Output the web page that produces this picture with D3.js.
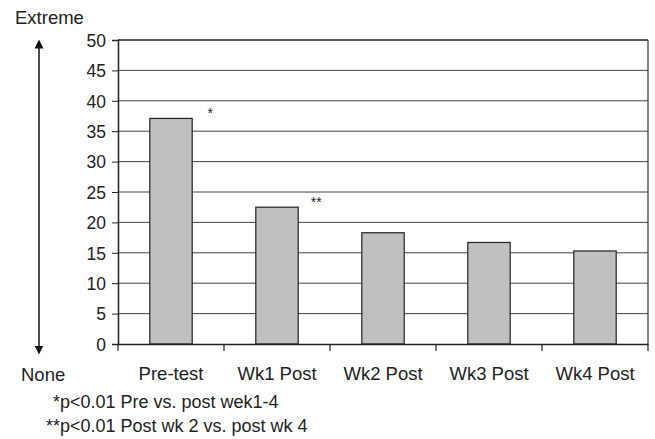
<!DOCTYPE html>
<html><head><meta charset="utf-8">
<script src="https://cdn.jsdelivr.net/npm/d3@7"></script>
<style>body{margin:0;background:#fff}svg{display:block}text{font-family:"Liberation Sans",Arial,sans-serif;fill:#222}</style>
</head><body><svg id="c" width="655" height="439"></svg>
<script>
const categories = ["Pre-test","Wk1 Post","Wk2 Post","Wk3 Post","Wk4 Post"];
const values = [37.1, 22.5, 18.3, 16.7, 15.3];
const yTicks = [0,5,10,15,20,25,30,35,40,45,50];
const annotations = [{cat:"Pre-test", text:"*", v:37.1},{cat:"Wk1 Post", text:"**", v:22.5}];
const footnotes = ["*p<0.01 Pre vs. post wek1-4","**p<0.01 Post wk 2 vs. post wk 4"];

const svg = d3.select("#c");
const L=118,R=648,T=40,B=344;
const x = d3.scaleBand().domain(categories).range([L,R]).paddingInner(0).paddingOuter(0);
const y = d3.scaleLinear().domain([0,50]).range([B,T]);

// gridlines
svg.append("g").selectAll("line").data(yTicks.filter(d=>d>0)).join("line")
  .attr("x1",L).attr("x2",R).attr("y1",d=>y(d)).attr("y2",d=>y(d))
  .attr("stroke",d=>d===50?"#222":"#444").attr("stroke-width",d=>d===50?1.5:1);
// right border
svg.append("line").attr("x1",R).attr("x2",R).attr("y1",T).attr("y2",B).attr("stroke","#333").attr("stroke-width",1.2);

// bars
const bw = x.bandwidth()*0.4;
svg.append("g").selectAll("rect").data(values).join("rect")
  .attr("x",(d,i)=>x(categories[i])+x.bandwidth()/2-bw/2)
  .attr("width",bw).attr("y",d=>y(d)).attr("height",d=>B-y(d))
  .attr("fill","#c0c0c0").attr("stroke","#222").attr("stroke-width",1.2);

// y axis
const ya = svg.append("g").attr("transform",`translate(${L},0)`)
  .call(d3.axisLeft(y).tickValues(yTicks).tickSize(6).tickPadding(6));
ya.select(".domain").attr("stroke","#222").attr("stroke-width",1.5);
ya.selectAll(".tick line").attr("stroke","#222");
ya.selectAll("text").style("font-size","17.5px").attr("fill","#222").attr("dy","0.36em");

// x axis
const xa = svg.append("g").attr("transform",`translate(0,${B})`)
  .call(d3.axisBottom(x).tickSize(0).tickPadding(23));
xa.select(".domain").attr("stroke","#222").attr("stroke-width",1.5);
xa.selectAll("text").style("font-size","18.5px").attr("fill","#222");
// boundary ticks
const bounds = categories.map(c=>x(c)).concat([R]);
svg.append("g").selectAll("line").data(bounds).join("line")
  .attr("x1",d=>d).attr("x2",d=>d).attr("y1",B).attr("y2",B+7).attr("stroke","#222").attr("stroke-width",1.2);

// annotations
svg.append("g").selectAll("text").data(annotations).join("text")
  .attr("x",d=>x(d.cat)+x.bandwidth()*0.87).attr("y",d=>y(d.v))
  .attr("text-anchor","middle").style("font-size","14px").text(d=>d.text);

// arrow
svg.append("defs").html('<marker id="ah" viewBox="0 0 10 10" refX="5" refY="5" markerWidth="6" markerHeight="6" orient="auto-start-reverse"><path d="M0,0L10,5L0,10z" fill="#111"/></marker>');
svg.append("line").attr("x1",39).attr("x2",39).attr("y1",44).attr("y2",350)
  .attr("stroke","#111").attr("stroke-width",1.5)
  .attr("marker-start","url(#ah)").attr("marker-end","url(#ah)");

svg.append("text").attr("x",15).attr("y",24).style("font-size","18.5px").text("Extreme");
svg.append("text").attr("x",21).attr("y",381).style("font-size","18.5px").text("None");

svg.append("g").selectAll("text").data(footnotes).join("text")
  .attr("x",(d,i)=>i===0?53:46).attr("y",(d,i)=>408+i*24)
  .style("font-size","18px").text(d=>d);
</script></body></html>
